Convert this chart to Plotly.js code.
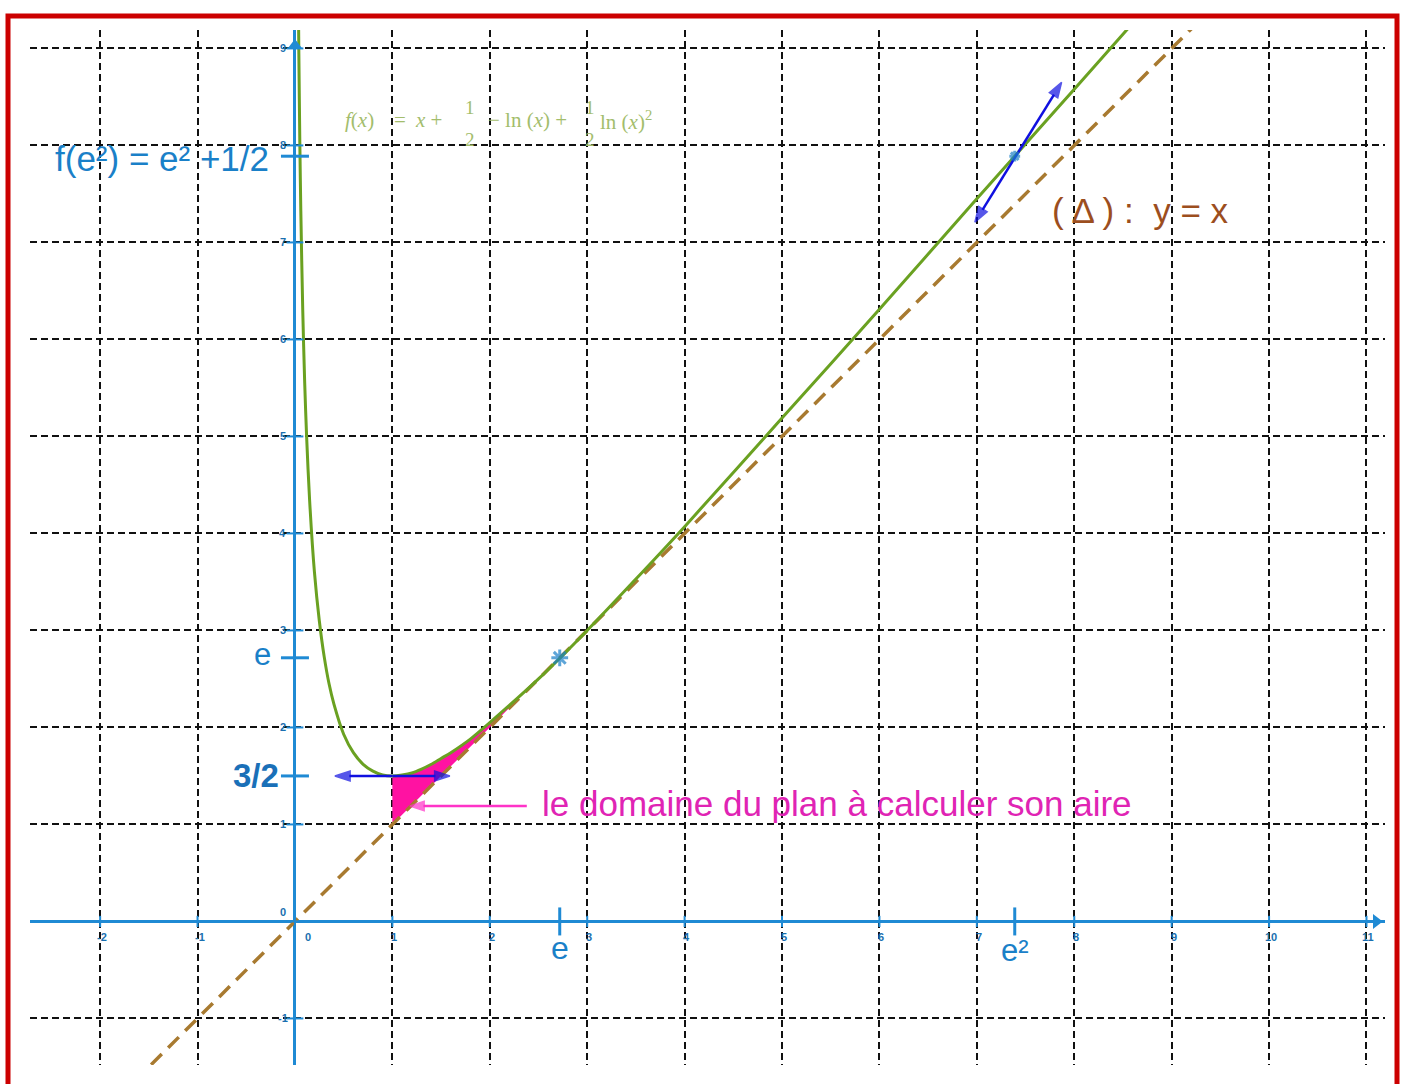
<!DOCTYPE html>
<html>
<head>
<meta charset="utf-8">
<script src="https://cdn.plot.ly/plotly-3.0.1.min.js"></script>
<style>
  html, body { margin: 0; padding: 0; background: #fff; }
  #graph { width: 1401px; height: 1084px; }
</style>
</head>
<body>
<div id="graph"></div>
<script>
// grid / tick values
var xTicks = [-2, -1, 0, 1, 2, 3, 4, 5, 6, 7, 8, 9, 10, 11];
var yTicks = [-1, 0, 1, 2, 3, 4, 5, 6, 7, 8, 9];

// curve of f
var curveX = [0.035, 0.04, 0.05, 0.06, 0.08, 0.1, 0.12, 0.15, 0.2, 0.25, 0.3, 0.35, 0.4, 0.5, 0.6, 0.7, 0.8, 0.9,
              1, 1.1, 1.2, 1.3, 1.4, 1.5, 1.6, 1.8, 2, 2.5, 3, 3.5, 4, 5, 6, 7, 8, 8.6];
var curveY = [9.51, 8.94, 8.03, 7.33, 6.30, 5.55, 4.99, 4.35, 3.60, 3.10, 2.73, 2.45, 2.24, 1.93, 1.74, 1.62, 1.55, 1.51,
              1.5, 1.51, 1.53, 1.57, 1.62, 1.68, 1.74, 1.88, 2.05, 2.50, 3.00, 3.53, 4.07, 5.19, 6.31, 7.45, 8.58, 9.26];

// asymptote y = x
var deltaX = [-2, 10];
var deltaY = [-2, 10];

// shaded domain between the curve and y = x, from 1 to e
var areaX = [1, 1.1, 1.2, 1.3, 1.4, 1.5, 1.6, 1.8, 2, 2.25, 2.5, 2.72];
var areaTop = [1.5, 1.51, 1.53, 1.57, 1.62, 1.68, 1.74, 1.88, 2.05, 2.27, 2.50, 2.72];

// tangent vectors: [x start, y start, x end, y end]
var tangent1 = [0.41, 1.5, 1.59, 1.5];
var tangent2 = [6.98, 7.21, 7.87, 8.65];
// pointer to the domain: [x tail, y, x tip, y]
var pointer = [2.38, 1.19, 1.18, 1.19];

// special points
var ptX = [2.718, 7.389];
var ptY = [2.718, 7.889];
var specialXTicks = [2.718, 7.389];
var specialXLabels = ["e", "e²"];
var specialYTicks = [2.718, 1.5, 7.889];
var specialYLabels = ["e", "3/2", "f(e²) = e² +1/2"];

var axisBlue = "#1f8ad4";
var labelBlue = "#1a80c8";
var tickFont = {family: "Liberation Sans", size: 11, color: "#1a6fb0", weight: "bold"};

// line with an arrow head drawn as a scatter trace
function arrowTrace(x0, y0, x1, y1, color, width, head) {
    return {x: [x0, x1], y: [y0, y1], mode: "lines+markers", line: {color: color, width: width},
        marker: {symbol: "arrow", angleref: "previous", size: [0, head], color: color,
                 line: {color: color, width: 1.5}},
        hoverinfo: "skip", showlegend: false};
}
function doubleArrow(t, color, width, head) {
    var mx = (t[0] + t[2]) / 2, my = (t[1] + t[3]) / 2;
    return [arrowTrace(mx, my, t[2], t[3], color, width, head), arrowTrace(mx, my, t[0], t[1], color, width, head)];
}

var traces = [
    // pink area: lower edge then upper edge
    {x: areaX, y: areaX, mode: "lines", line: {width: 0}, hoverinfo: "skip", showlegend: false},
    {x: areaX, y: areaTop, mode: "lines", line: {width: 0}, fill: "tonexty", fillcolor: "#ff12a2",
     hoverinfo: "skip", showlegend: false},
    // y = x
    {x: deltaX, y: deltaY, mode: "lines", line: {color: "#a87a30", width: 3.5, dash: "15px,9px"}, showlegend: false},
    // f
    {x: curveX, y: curveY, mode: "lines", line: {color: "#6aa121", width: 3, shape: "spline", smoothing: 0.8},
     showlegend: false},
    // small integer ticks on the axes
    {x: xTicks, y: xTicks.map(function(){return 0;}), mode: "markers",
     marker: {symbol: "line-ns", size: 8, line: {color: axisBlue, width: 2}}, hoverinfo: "skip", showlegend: false},
    {x: yTicks.map(function(){return 0;}), y: yTicks, mode: "markers",
     marker: {symbol: "line-ew", size: 12, line: {color: axisBlue, width: 2}}, hoverinfo: "skip", showlegend: false},
    // special ticks
    {x: specialXTicks, y: specialXTicks.map(function(){return 0;}), mode: "markers",
     marker: {symbol: "line-ns", size: 20, line: {color: axisBlue, width: 3}}, hoverinfo: "skip", showlegend: false},
    {x: specialYTicks.map(function(){return 0;}), y: specialYTicks, mode: "markers",
     marker: {symbol: "line-ew", size: 20, line: {color: axisBlue, width: 3}}, hoverinfo: "skip", showlegend: false},
    // axis arrow heads
    {x: [11.1, 0], y: [0, 9.03], mode: "markers",
     marker: {symbol: ["triangle-right", "triangle-up"], size: 13, color: axisBlue}, hoverinfo: "skip", showlegend: false}
];
traces = traces.concat(doubleArrow(tangent1, "#1010e0", 2.5, 16));
traces = traces.concat(doubleArrow(tangent2, "#1010e0", 2.5, 16));
traces.push(arrowTrace(pointer[0], pointer[1], pointer[2], pointer[3], "#ff33c8", 2.5, 15));
// points (e, e) and (e², f(e²))
traces.push({x: ptX, y: ptY, mode: "markers",
    marker: {symbol: "asterisk-open", size: [14, 9], color: "#1a7fc8", line: {color: "#1a7fc8", width: 3}},
    showlegend: false});

var annotations = [];

// tick labels
xTicks.forEach(function(v){
    annotations.push({x: v, y: 0, text: String(v), showarrow: false, font: tickFont,
        yshift: -16, xshift: v === 0 ? 13 : 2});
});
yTicks.forEach(function(v){
    if (v === 0) {
        annotations.push({x: 0, y: 0, text: "0", showarrow: false, font: tickFont, xshift: -12, yshift: 9});
    } else {
        annotations.push({x: 0, y: v, text: String(v), showarrow: false, font: tickFont, xshift: -12});
    }
});

// special labels
annotations.push({x: specialXTicks[0], y: 0, text: specialXLabels[0], showarrow: false,
    font: {family: "Liberation Sans", size: 32, color: labelBlue}, yshift: -27});
annotations.push({x: specialXTicks[1], y: 0, text: specialXLabels[1], showarrow: false,
    font: {family: "Liberation Sans", size: 31, color: labelBlue}, yshift: -29});
annotations.push({x: 0, y: specialYTicks[0], text: specialYLabels[0], showarrow: false, xanchor: "right",
    font: {family: "Liberation Sans", size: 31, color: labelBlue}, xshift: -22, yshift: 3});
annotations.push({x: 0, y: specialYTicks[1], text: "<b>" + specialYLabels[1] + "</b>", showarrow: false, xanchor: "right",
    font: {family: "Liberation Sans", size: 33, color: "#1a70b8"}, xshift: -14});
annotations.push({x: 0, y: specialYTicks[2], text: specialYLabels[2], showarrow: false, xanchor: "right",
    font: {family: "Liberation Sans", size: 35, color: labelBlue}, xshift: -24, yshift: -2});

// domain label
annotations.push({x: 2.52, y: 1.22, text: "le domaine du plan à calculer son aire", showarrow: false, xanchor: "left",
    font: {family: "Liberation Sans", size: 35, color: "#e024b4"}});

// equation of f, in pieces so the fractions stack
var eqFont = {family: "Liberation Serif", size: 21, color: "#a3bd6c"};
var eqParts = [
    ["<i>f</i>(<i>x</i>)", 0],
    ["=", 49],
    ["<i>x</i> +", 70],
    ["− ln (<i>x</i>) +", 143],
    ["ln (<i>x</i>)<sup>2</sup>", 255]
];
eqParts.forEach(function(p){
    annotations.push({x: 0.4926, y: 8.26, xanchor: "left", showarrow: false, text: p[0], xshift: p[1], font: eqFont});
});
[127, 247].forEach(function(s){
    annotations.push({x: 0.4926, y: 8.26, showarrow: false, text: "1", xshift: s, yshift: 13,
        font: {family: "Liberation Serif", size: 19, color: "#a3bd6c"}});
    annotations.push({x: 0.4926, y: 8.26, showarrow: false, text: "2", xshift: s, yshift: -19,
        font: {family: "Liberation Serif", size: 19, color: "#a3bd6c"}});
});

// asymptote label
annotations.push({x: 7.75, y: 7.33, xanchor: "left", showarrow: false, text: "( Δ ) :  y = x",
    font: {family: "Liberation Sans", size: 35, color: "#9c4e1e"}});

var gridAxis = {
    dtick: 1, tick0: 0, showticklabels: false, ticks: "",
    showgrid: true, gridcolor: "#111111", gridwidth: 2, griddash: "7px,4px",
    zeroline: true, zerolinecolor: axisBlue, zerolinewidth: 3,
    showline: false, fixedrange: true
};

var layout = {
    width: 1401, height: 1084,
    margin: {l: 0, r: 0, t: 0, b: 0},
    paper_bgcolor: "#ffffff", plot_bgcolor: "#ffffff",
    showlegend: false,
    xaxis: Object.assign({}, gridAxis, {range: [-2.72, 11.19], domain: [30 / 1401, 1385 / 1401]}),
    yaxis: Object.assign({}, gridAxis, {range: [-1.48, 9.19], domain: [19 / 1084, 1054 / 1084]}),
    annotations: annotations,
    shapes: [
        // red frame round the picture
        {type: "rect", xref: "paper", yref: "paper", x0: 8 / 1401, x1: 1397 / 1401, y0: -0.05, y1: 1 - 16 / 1084,
         line: {color: "#cc0000", width: 5}}
    ]
};

Plotly.newPlot("graph", traces, layout, {displayModeBar: false, staticPlot: true});
</script>
</body>
</html>
